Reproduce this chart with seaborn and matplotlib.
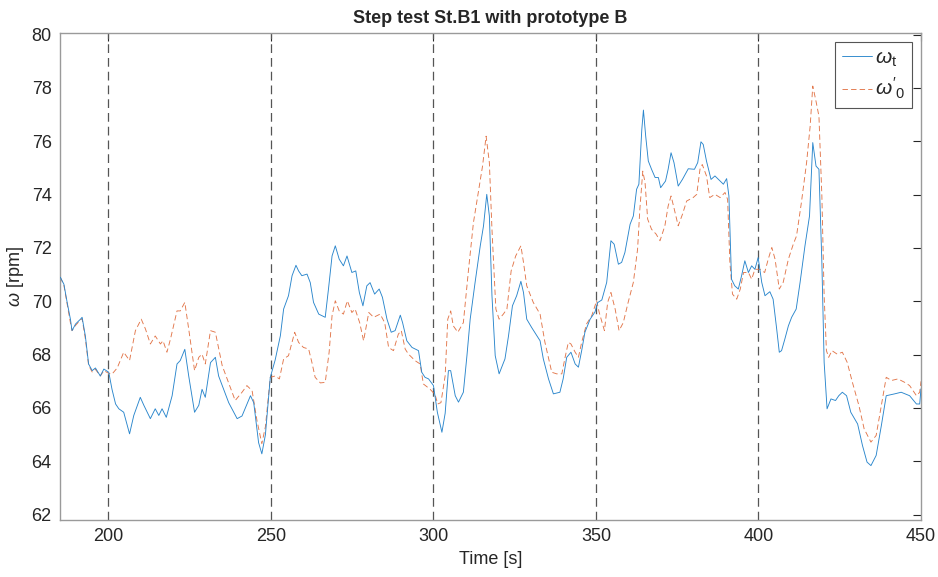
import numpy as np
import pandas as pd
import matplotlib
matplotlib.use("Agg")
import matplotlib.pyplot as plt
import seaborn as sns

# Measured rotor speed omega_t
t_meas = [185.2, 186.3, 187.3, 188.3, 188.8, 189.9, 191.4, 191.9, 192.9, 193.9, 195.0, 196.0, 197.5, 198.6,
          200.1, 201.1, 202.2, 203.2, 204.7, 206.5, 207.8, 209.8, 210.9, 212.9, 214.4, 215.5, 216.5, 217.8,
          219.6, 221.1, 222.1, 223.5, 224.7, 226.5, 227.8, 228.8, 229.8, 231.4, 232.9, 233.9, 237.0, 239.6,
          241.1, 243.7, 244.7, 246.2, 247.2, 248.3, 249.8, 251.3, 252.9, 253.9, 255.4, 256.5, 257.7, 258.5,
          259.5, 261.1, 262.1, 263.1, 264.7, 266.7, 267.7, 268.8, 269.8, 271.0, 272.3, 273.4, 274.9, 276.1,
          277.2, 278.3, 279.5, 280.5, 281.9, 283.3, 284.3, 285.7, 287.0, 288.2, 289.8, 290.5, 291.8, 293.4,
          295.4, 296.4, 297.4, 298.5, 300.0, 301.2, 302.6, 303.6, 304.6, 305.3, 306.7, 307.7, 309.2, 310.3,
          311.3, 312.8, 314.4, 315.4, 316.4, 317.2, 318.0, 319.0, 320.2, 321.0, 322.0, 323.1, 324.3, 325.6,
          326.9, 327.7, 328.7, 330.2, 332.8, 333.8, 335.4, 336.9, 338.9, 339.9, 341.0, 342.3, 343.6, 344.6,
          345.6, 346.6, 348.2, 349.7, 350.5, 351.8, 353.3, 354.6, 355.6, 356.9, 357.9, 358.9, 360.5, 361.5,
          362.5, 363.2, 364.1, 364.6, 365.3, 366.1, 367.1, 368.2, 369.2, 369.9, 371.4, 372.2, 373.1, 374.0,
          375.3, 376.6, 378.4, 380.3, 381.3, 382.3, 383.0, 384.0, 385.4, 386.6, 388.2, 389.2, 390.2, 390.9,
          391.7, 392.7, 393.8, 394.8, 395.8, 396.9, 397.9, 398.9, 399.9, 401.0, 402.0, 403.5, 404.5, 405.6,
          406.4, 407.1, 408.1, 409.2, 410.2, 411.6, 412.8, 414.3, 415.7, 416.7, 417.7, 418.6, 419.5, 420.2,
          421.1, 422.3, 423.7, 424.7, 425.8, 427.1, 428.4, 430.5, 432.0, 433.4, 434.6, 436.2, 437.8, 439.3,
          441.9, 443.9, 446.5, 448.6, 449.6, 450.0]
w_meas = [70.9, 70.64, 69.96, 69.33, 68.9, 69.15, 69.33, 69.4, 68.7, 67.65, 67.4, 67.5, 67.2, 67.46,
          67.34, 66.7, 66.15, 65.97, 65.84, 65.03, 65.72, 66.4, 66.1, 65.6, 65.97, 65.72, 65.97, 65.65,
          66.46, 67.65, 67.78, 68.2, 67.2, 65.84, 66.1, 66.7, 66.4, 67.7, 67.9, 67.2, 66.2, 65.6,
          65.7, 66.46, 66.2, 64.7, 64.28, 65.0, 67.15, 67.8, 68.71, 69.71, 70.21, 70.96, 71.35, 71.14,
          70.96, 71.02, 70.7, 69.96, 69.52, 69.4, 70.46, 71.7, 72.08, 71.58, 71.33, 71.7, 71.08, 71.14,
          70.33, 69.83, 70.58, 70.7, 70.27, 70.46, 70.15, 69.33, 68.84, 68.9, 69.48, 69.2, 68.52, 68.27,
          68.15, 67.34, 67.15, 67.09, 66.84, 65.84, 65.09, 65.8, 67.4, 67.4, 66.46, 66.22, 66.59, 67.96,
          69.33, 70.7, 72.08, 72.83, 74.01, 73.2, 70.21, 67.96, 67.28, 67.53, 67.84, 68.71, 69.83, 70.21,
          70.75, 70.33, 69.33, 69.02, 68.52, 67.84, 67.09, 66.53, 66.59, 67.09, 67.9, 68.09, 67.65, 67.53,
          68.15, 68.84, 69.33, 69.6, 69.95, 70.05, 70.71, 72.27, 72.14, 71.39, 71.46, 71.83, 72.89, 73.2,
          74.2, 74.39, 76.44, 77.17, 76.19, 75.26, 74.95, 74.64, 74.64, 74.26, 74.51, 74.95, 75.57, 75.2,
          74.32, 74.57, 74.97, 74.95, 75.2, 75.98, 75.88, 75.26, 74.57, 74.7, 74.51, 74.39, 74.6, 73.95,
          70.83, 70.58, 70.46, 70.96, 71.52, 71.08, 71.33, 71.2, 71.64, 70.71, 70.21, 70.36, 70.08, 68.96,
          68.09, 68.15, 68.58, 69.08, 69.4, 69.71, 70.71, 72.08, 73.2, 75.95, 75.07, 74.95, 71.46, 67.71,
          65.97, 66.34, 66.28, 66.46, 66.59, 66.46, 65.84, 65.4, 64.59, 63.97, 63.84, 64.22, 65.34, 66.46,
          66.53, 66.59, 66.46, 66.15, 66.15, 66.72]

# Observer estimate omega'_0
t_obs = [185.2, 186.3, 187.3, 188.3, 188.8, 189.9, 191.4, 191.9, 192.9, 193.9, 195.0, 196.0, 197.5, 198.6,
         200.1, 201.1, 202.7, 204.7, 206.5, 208.3, 210.1, 211.4, 212.9, 214.4, 216.0, 216.8, 218.0, 219.1,
         221.1, 222.1, 223.5, 224.7, 226.5, 227.8, 228.8, 229.8, 231.4, 232.9, 235.0, 239.0, 241.1, 242.6,
         244.2, 245.7, 247.2, 248.3, 249.8, 251.3, 252.6, 253.9, 255.4, 257.3, 258.5, 260.0, 261.6, 262.6,
         263.6, 265.2, 266.7, 267.9, 268.8, 269.8, 271.0, 272.3, 273.5, 274.9, 275.9, 277.3, 278.5, 280.1,
         281.6, 283.6, 285.0, 286.2, 287.7, 289.2, 290.1, 291.3, 292.3, 294.4, 295.9, 296.9, 299.0, 300.5,
         301.3, 302.3, 303.6, 304.4, 305.3, 306.1, 307.5, 309.2, 310.8, 312.3, 313.8, 315.1, 316.2, 317.2,
         318.0, 319.2, 320.2, 321.5, 322.6, 323.9, 325.3, 326.9, 327.7, 328.7, 330.7, 332.8, 334.3, 336.4,
         337.9, 339.5, 340.5, 341.5, 342.3, 343.6, 344.6, 345.6, 347.1, 348.7, 350.2, 351.0, 352.6, 353.6,
         354.6, 355.9, 357.1, 358.4, 359.9, 361.5, 362.8, 363.5, 364.4, 365.1, 365.9, 367.1, 368.5, 369.7,
         371.2, 372.2, 373.1, 374.1, 375.3, 376.6, 377.9, 379.9, 381.0, 382.0, 382.7, 384.0, 385.0, 386.6,
         388.2, 389.7, 390.5, 391.2, 392.0, 393.3, 394.4, 395.4, 396.9, 397.9, 398.9, 400.4, 401.9, 403.0,
         404.1, 405.1, 406.4, 407.6, 409.2, 410.7, 411.7, 413.2, 414.8, 415.9, 416.7, 417.7, 418.6, 419.5,
         420.2, 420.9, 421.6, 422.6, 424.2, 425.8, 427.3, 428.9, 430.9, 432.5, 434.6, 436.2, 437.8, 439.3,
         440.9, 442.9, 445.0, 446.5, 448.6, 449.6, 450.0]
w_obs = [70.9, 70.6, 69.9, 69.2, 68.9, 69.1, 69.3, 69.35, 68.6, 67.6, 67.35, 67.45, 67.2, 67.4,
         67.3, 67.27, 67.5, 68.09, 67.78, 68.9, 69.33, 68.96, 68.4, 68.7, 68.4, 68.52, 68.09, 68.59,
         69.64, 69.64, 69.96, 68.96, 67.4, 67.9, 68.02, 67.65, 68.9, 68.84, 67.59, 66.28, 66.59, 66.84,
         66.65, 65.53, 64.66, 65.3, 67.15, 67.2, 67.09, 67.84, 67.96, 68.84, 68.46, 68.27, 68.21, 67.71,
         67.15, 66.94, 66.96, 68.09, 69.46, 70.02, 69.64, 69.52, 70.02, 69.58, 69.71, 69.2, 68.52, 69.58,
         69.4, 69.52, 69.2, 68.27, 68.15, 68.77, 68.9, 68.21, 68.02, 67.77, 67.65, 66.9, 66.7, 66.5,
         66.15, 66.2, 67.21, 69.33, 69.64, 69.08, 68.84, 69.2, 71.2, 72.95, 74.08, 75.07, 76.19, 75.2,
         72.7, 69.71, 69.33, 69.52, 69.71, 71.14, 71.7, 72.08, 71.46, 70.58, 69.96, 69.52, 68.46, 67.34,
         67.28, 67.28, 67.9, 68.46, 68.4, 68.09, 67.9, 68.46, 69.15, 69.46, 70.02, 69.58, 68.9, 69.96,
         70.33, 69.71, 68.9, 69.2, 69.96, 70.71, 71.95, 73.45, 74.88, 74.45, 73.08, 72.7, 72.52, 72.27,
         72.83, 73.57, 73.95, 73.45, 72.83, 73.26, 73.76, 73.89, 74.01, 74.95, 75.13, 74.7, 73.89, 74.01,
         73.89, 74.08, 73.82, 71.46, 70.27, 70.08, 70.46, 71.08, 71.08, 70.83, 71.2, 71.2, 71.08, 71.58,
         72.02, 71.58, 70.46, 70.71, 71.58, 72.14, 72.45, 73.7, 75.2, 76.57, 78.07, 77.5, 76.94, 73.95,
         70.21, 68.15, 67.9, 68.15, 68.02, 68.09, 67.71, 66.96, 66.09, 65.22, 64.72, 64.97, 66.09, 67.15,
         67.03, 67.09, 66.96, 66.84, 66.46, 66.59, 67.0]

# Step instants
step_times = [200, 250, 300, 350, 400]
x_ticks = [200, 250, 300, 350, 400, 450]
y_ticks = [62, 64, 66, 68, 70, 72, 74, 76, 78, 80]

sns.set_style("white")
plt.rcParams["font.family"] = ["Liberation Sans", "DejaVu Sans"]
plt.rcParams["mathtext.fontset"] = "custom"
plt.rcParams["mathtext.rm"] = "Liberation Sans"
plt.rcParams["mathtext.it"] = "Liberation Sans:italic"

df_meas = pd.DataFrame({"t": t_meas, "w": w_meas})
df_obs = pd.DataFrame({"t": t_obs, "w": w_obs})

fig = plt.figure(figsize=(9.38, 5.77), dpi=100)
ax = fig.add_axes([60 / 938, 1 - 520 / 577, 861 / 938, 487 / 577])

for ts in step_times:
    ax.axvline(ts, color="#555555", linestyle=(0, (7, 4)), linewidth=0.9, zorder=1)

sns.lineplot(data=df_meas, x="t", y="w", ax=ax, color="#2a86cc", linewidth=0.65,
             label=r"$\omega_{\mathrm{t}}$", errorbar=None, sort=False, zorder=3)
sns.lineplot(data=df_obs, x="t", y="w", ax=ax, color="#e2764a", linewidth=0.65,
             linestyle=(0, (6, 3.5)), label=r"$\omega'_{\mathrm{0}}$", errorbar=None, sort=False, zorder=2)

ax.set_xlim(185.1, 450)
ax.set_ylim(61.8, 80.06)
ax.set_xticks(x_ticks)
ax.set_yticks(y_ticks)
ax.tick_params(axis="both", direction="in", length=6, width=0.8, color="#262626",
               labelsize=13, labelcolor="#262626", top=True, right=True, pad=6)
for s in ax.spines.values():
    s.set_color("#9a9a9a")
    s.set_linewidth(1.0)

ax.set_title("Step test St.B1 with prototype B", fontsize=13, fontweight="bold", pad=7)
ax.set_xlabel("Time [s]", fontsize=13, color="#262626", labelpad=4)
ax.set_ylabel(r"$\omega$ [rpm]", fontsize=13, color="#262626", labelpad=4)

leg = ax.legend(loc="upper right", fontsize=15, frameon=True, fancybox=False, framealpha=1,
                edgecolor="#555555", handlelength=1.45, handletextpad=0.15, borderpad=0.3,
                labelspacing=0.35, borderaxespad=0.45)
leg.get_frame().set_linewidth(0.8)

fig.savefig("out.png", dpi=100)
